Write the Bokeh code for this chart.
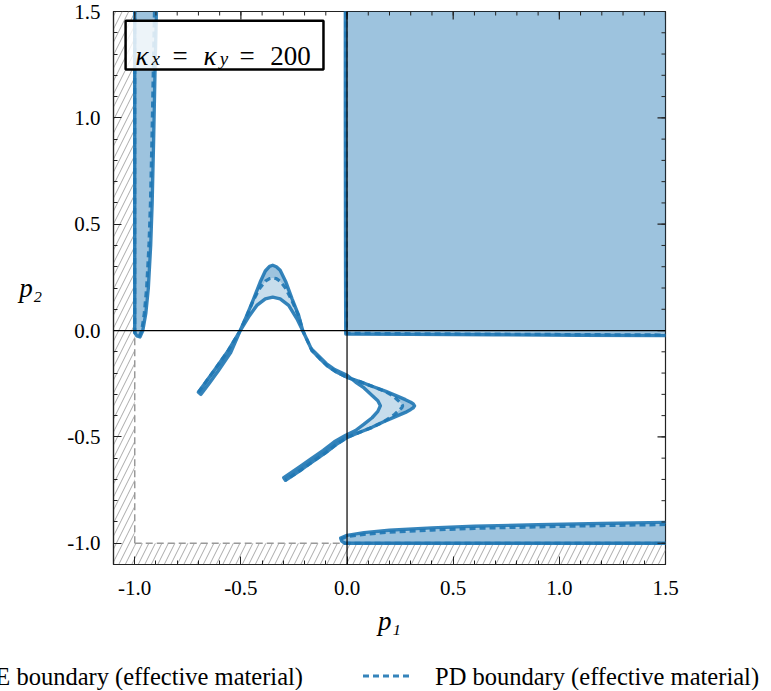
import math
from bokeh.plotting import figure
from bokeh.layouts import column
from bokeh.models import Range1d, FixedTicker, Span, BoxAnnotation, Label, Div
from bokeh.embed import file_html
from bokeh.resources import INLINE

# ---------------- data ----------------
X_TICKS = [-1.0, -0.5, 0.0, 0.5, 1.0, 1.5]
Y_TICKS = [-1.0, -0.5, 0.0, 0.5, 1.0, 1.5]
TICK_LABELS = ["-1.0", "-0.5", "0.0", "0.5", "1.0", "1.5"]
MINOR_TICKS = [-1.1, -1.0, -0.9, -0.8, -0.7, -0.6, -0.5, -0.4, -0.3, -0.2, -0.1, 0.0,
               0.1, 0.2, 0.3, 0.4, 0.5, 0.6, 0.7, 0.8, 0.9, 1.0, 1.1, 1.2, 1.3, 1.4, 1.5]

# upper-right unstable quadrant
QUAD_SE_X = [-0.008, -0.008, -0.007, -0.006, 0.3, 0.7, 1.1, 1.5]
QUAD_SE_Y = [1.5, 1.0, 0.3, -0.016, -0.018, -0.020, -0.022, -0.024]
QUAD_PD_X = [-0.005, -0.005, -0.004, -0.003, 0.3, 0.7, 1.1, 1.5]
QUAD_PD_Y = [1.5, 1.0, 0.3, -0.013, -0.015, -0.017, -0.019, -0.021]

# left vertical band
LB_SE_X = [-0.898, -0.905, -0.911, -0.918, -0.925, -0.936, -0.948, -0.962, -0.975, -0.990, -1.0, -1.0]
LB_SE_Y = [1.5, 1.2, 0.9, 0.6, 0.4, 0.2, 0.08, 0.0, -0.03, -0.025, -0.01, 1.5]
LB_PD_X = [-0.907, -0.913, -0.919, -0.926, -0.933, -0.944, -0.955, -0.967, -0.978, -0.991, -1.0, -1.0]
LB_PD_Y = [1.5, 1.2, 0.9, 0.6, 0.4, 0.2, 0.08, 0.0, -0.025, -0.022, -0.01, 1.5]

# bottom horizontal band
BB_SE_X = [1.5, 1.2, 0.9, 0.6, 0.4, 0.2, 0.08, 0.0, -0.03, -0.025, -0.01, 1.5]
BB_SE_Y = [-0.902, -0.907, -0.913, -0.920, -0.928, -0.939, -0.950, -0.963, -0.976, -0.990, -1.0, -1.0]
BB_PD_X = [1.5, 1.2, 0.9, 0.6, 0.4, 0.2, 0.08, 0.0, -0.025, -0.022, -0.01, 1.5]
BB_PD_Y = [-0.912, -0.917, -0.923, -0.930, -0.938, -0.948, -0.958, -0.969, -0.979, -0.991, -1.0, -1.0]

# central two-lobed boundary: outer branch (lower-left end -> lower-right end)
OUTER_X = [-0.70, -0.66, -0.62, -0.56, -0.503, -0.472, -0.44, -0.409, -0.385, -0.365, -0.35,
           -0.333, -0.315, -0.288, -0.259, -0.228, -0.209, -0.165, -0.13, -0.094, -0.05,
           0.0, 0.06, 0.118, 0.18, 0.228, 0.275, 0.300, 0.312, 0.318, 0.312, 0.300, 0.275,
           0.228, 0.17, 0.118, 0.06, 0.0, -0.05, -0.102, -0.16, -0.212, -0.29]
OUTER_Y = [-0.29, -0.235, -0.18, -0.095, 0.0, 0.071, 0.149, 0.228, 0.28, 0.302, 0.307,
           0.300, 0.283, 0.228, 0.149, 0.071, 0.0, -0.094, -0.13, -0.165, -0.195,
           -0.22, -0.24, -0.262, -0.285, -0.305, -0.325, -0.337, -0.345, -0.354, -0.363,
           -0.371, -0.385, -0.405, -0.43, -0.455, -0.478, -0.503, -0.535, -0.575, -0.615,
           -0.652, -0.704]
# inner branch (lower-right end -> lower-left end)
INNER_X = [-0.298, -0.222, -0.170, -0.112, -0.060, -0.006, 0.04, 0.08, 0.118, 0.145, 0.157,
           0.145, 0.118, 0.08, 0.04, 0.0, -0.058, -0.098, -0.134, -0.170, -0.209, -0.236,
           -0.275, -0.315, -0.35, -0.385, -0.425, -0.464, -0.503, -0.548, -0.607, -0.647, -0.688]
INNER_Y = [-0.692, -0.640, -0.603, -0.563, -0.523, -0.492, -0.47, -0.44, -0.41, -0.38, -0.354,
           -0.33, -0.305, -0.27, -0.242, -0.210, -0.184, -0.155, -0.119, -0.084, 0.0, 0.055,
           0.118, 0.149, 0.157, 0.149, 0.118, 0.063, 0.0, -0.104, -0.190, -0.245, -0.300]
# PD branch (dashed), follows the outer branch but with lower lobe tips
PD_X = [-0.70, -0.66, -0.62, -0.56, -0.503, -0.472, -0.44, -0.41, -0.385, -0.365, -0.35,
        -0.333, -0.315, -0.29, -0.262, -0.228, -0.209, -0.165, -0.13, -0.094, -0.05,
        0.0, 0.06, 0.118, 0.18, 0.22, 0.245, 0.258, 0.262, 0.258, 0.245, 0.22, 0.17,
        0.118, 0.06, 0.0, -0.05, -0.102, -0.16, -0.212, -0.29]
PD_Y = [-0.29, -0.235, -0.18, -0.095, 0.0, 0.07, 0.145, 0.20, 0.232, 0.244, 0.247,
        0.244, 0.232, 0.20, 0.145, 0.07, 0.0, -0.094, -0.13, -0.165, -0.195,
        -0.22, -0.24, -0.262, -0.287, -0.31, -0.333, -0.345, -0.354, -0.363, -0.375,
        -0.398, -0.43, -0.455, -0.478, -0.503, -0.535, -0.575, -0.615, -0.652, -0.704]

SE_LABEL = "SE boundary (effective material)"
PD_LABEL = "PD boundary (effective material)"

# ---------------- styling ----------------
BLUE = "#1f77b4"
FONT = "Liberation Serif, DejaVu Serif, serif"
FA = 0.25
AX = "#222222"

p = figure(width=770, height=655, x_range=Range1d(-1.1, 1.5), y_range=Range1d(-1.1, 1.5),
           output_backend="svg", toolbar_location=None,
           min_border_left=113, min_border_right=105, min_border_top=11, min_border_bottom=91)
p.xgrid.visible = False
p.ygrid.visible = False
p.outline_line_color = AX
p.outline_line_width = 1.2
p.background_fill_color = "white"

# hatched inadmissible strips
p.quad(left=[-1.1], right=[-1.0], bottom=[-1.1], top=[1.5], fill_color=None, line_color=None,
       hatch_pattern="/", hatch_color="#a0a0a0", hatch_scale=13, hatch_weight=0.9)
p.quad(left=[-1.0], right=[1.5], bottom=[-1.1], top=[-1.0], fill_color=None, line_color=None,
       hatch_pattern="/", hatch_color="#a0a0a0", hatch_scale=13, hatch_weight=0.9)
p.line([-1.0, -1.0], [-1.0, 1.5], line_color="#999999", line_width=1.5, line_dash="7 4")
p.line([-1.0, 1.5], [-1.0, -1.0], line_color="#999999", line_width=1.5, line_dash="7 4")

# fills
p.patch(QUAD_SE_X + [1.5], QUAD_SE_Y + [1.5], fill_color=BLUE, fill_alpha=FA, line_color=None)
p.patch(QUAD_PD_X + [1.5], QUAD_PD_Y + [1.5], fill_color=BLUE, fill_alpha=FA, line_color=None)
p.patch(LB_SE_X, LB_SE_Y, fill_color=BLUE, fill_alpha=FA, line_color=None)
p.patch(LB_PD_X, LB_PD_Y, fill_color=BLUE, fill_alpha=FA, line_color=None)
p.patch(BB_SE_X, BB_SE_Y, fill_color=BLUE, fill_alpha=FA, line_color=None)
p.patch(BB_PD_X, BB_PD_Y, fill_color=BLUE, fill_alpha=FA, line_color=None)
p.patch(OUTER_X + INNER_X, OUTER_Y + INNER_Y, fill_color=BLUE, fill_alpha=FA, line_color=None)
p.patch(OUTER_X + PD_X[::-1], OUTER_Y + PD_Y[::-1], fill_color=BLUE, fill_alpha=FA, line_color=None)

# boundaries
se_xs = [QUAD_SE_X, LB_SE_X, BB_SE_X, OUTER_X + INNER_X + [OUTER_X[0]]]
se_ys = [QUAD_SE_Y, LB_SE_Y, BB_SE_Y, OUTER_Y + INNER_Y + [OUTER_Y[0]]]
pd_xs = [QUAD_PD_X, LB_PD_X, BB_PD_X, PD_X]
pd_ys = [QUAD_PD_Y, LB_PD_Y, BB_PD_Y, PD_Y]
p.multi_line(pd_xs, pd_ys, line_color=BLUE, line_alpha=0.9, line_width=3.2, line_dash="6 4")
p.multi_line(se_xs, se_ys, line_color=BLUE, line_alpha=0.9, line_width=3.4,
             line_join="round", line_cap="round")

# mirrored ticks on top and right edges (clipped to the frame, so only the inner half shows)
p.scatter(X_TICKS, [1.5] * len(X_TICKS), marker="dash", size=16, angle=math.pi / 2,
          line_color=AX, line_width=1.2)
p.scatter(MINOR_TICKS, [1.5] * len(MINOR_TICKS), marker="dash", size=8, angle=math.pi / 2,
          line_color=AX, line_width=1.0)
p.scatter([1.5] * len(Y_TICKS), Y_TICKS, marker="dash", size=16,
          line_color=AX, line_width=1.2)
p.scatter([1.5] * len(MINOR_TICKS), MINOR_TICKS, marker="dash", size=8,
          line_color=AX, line_width=1.0)

# zero axes
p.add_layout(Span(location=0, dimension="height", line_color="black", line_width=1.2))
p.add_layout(Span(location=0, dimension="width", line_color="black", line_width=1.2))

# axes
labels = dict(zip(X_TICKS, TICK_LABELS))
for ax in (p.xaxis[0], p.yaxis[0]):
    ax.ticker = FixedTicker(ticks=X_TICKS, minor_ticks=MINOR_TICKS)
    ax.major_tick_in = 8
    ax.major_tick_out = 0
    ax.minor_tick_in = 4
    ax.minor_tick_out = 0
    ax.axis_line_color = AX
    ax.axis_line_width = 1.2
    ax.major_tick_line_color = AX
    ax.minor_tick_line_color = AX
    ax.major_label_overrides = labels
    ax.major_label_text_font = FONT
    ax.major_label_text_font_size = "21px"
    ax.major_label_text_color = "black"
    ax.axis_label_text_font = FONT
    ax.axis_label_text_font_style = "italic"
    ax.axis_label_text_font_size = "27px"
    ax.axis_label_text_color = "black"
p.xaxis[0].major_label_standoff = 16
p.yaxis[0].major_label_standoff = 13
p.xaxis[0].axis_label = "p₁"
p.yaxis[0].axis_label = "p₂"
p.xaxis[0].axis_label_standoff = 8
p.yaxis[0].axis_label_standoff = 22
p.yaxis[0].axis_label_orientation = "horizontal"

# annotation box
p.add_layout(BoxAnnotation(left=-1.043, right=-0.111, bottom=1.227, top=1.457,
                           fill_color="white", fill_alpha=0.82, line_color="black",
                           line_width=2.5, line_alpha=1.0))
def lab(x, y, t, size, style="normal"):
    p.add_layout(Label(x=x, y=y, text=t, text_font=FONT, text_font_size=size,
                       text_font_style=style, text_color="black", text_baseline="alphabetic"))
lab(-0.996, 1.293, "κ", "27px", "italic")
lab(-0.921, 1.279, "x", "19px", "italic")
lab(-0.822, 1.293, "=", "27px")
lab(-0.676, 1.293, "κ", "27px", "italic")
lab(-0.600, 1.279, "y", "19px", "italic")
lab(-0.506, 1.293, "=", "27px")
lab(-0.362, 1.293, "200", "27px")

# ---------------- legend strip below the axes ----------------
TXT_STYLE = "font-family:'Liberation Serif','DejaVu Serif',serif;font-size:24.5px;fill:#000000;"
legend_html = (
    '<svg xmlns="http://www.w3.org/2000/svg" width="770" height="35" style="display:block">'
    '<line x1="-83" y1="21" x2="-36" y2="21" stroke="%s" stroke-opacity="0.9" stroke-width="3.4"/>'
    '<text x="303" y="21" text-anchor="end" dominant-baseline="central" style="%s">%s</text>'
    '<line x1="363" y1="21" x2="410" y2="21" stroke="%s" stroke-opacity="0.9" stroke-width="3.2" '
    'stroke-dasharray="6 4"/>'
    '<text x="435" y="21" text-anchor="start" dominant-baseline="central" style="%s">%s</text>'
    '</svg>' % (BLUE, TXT_STYLE, SE_LABEL, BLUE, TXT_STYLE, PD_LABEL)
)
leg = Div(text=legend_html, width=770, height=35, margin=(0, 0, 0, 0))

layout = column(p, leg, spacing=0)
open("out.html", "w").write(file_html(layout, INLINE))
